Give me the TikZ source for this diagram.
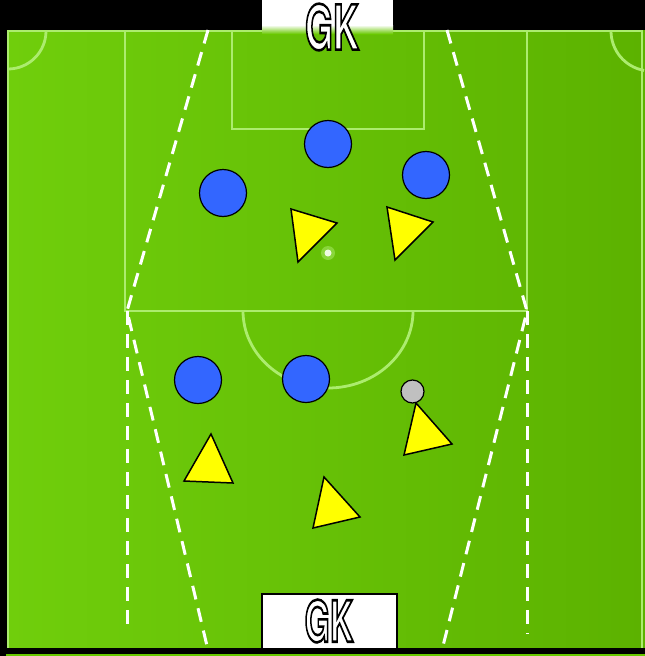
\documentclass[tikz,border=0pt]{standalone}
\usepackage{fontspec}
\setsansfont{TeX Gyre Heros}
\usetikzlibrary{positioning}
\definecolor{pitch}{RGB}{104,200,0}
\definecolor{pitchdark}{RGB}{92,178,0}
\definecolor{pitchlight}{RGB}{112,206,12}
\definecolor{chalk}{RGB}{172,236,110}
\definecolor{defender}{RGB}{51,102,255}
\definecolor{attacker}{RGB}{255,255,0}
\definecolor{ballgrey}{RGB}{192,192,192}
\newcommand{\outlined}[1]{\special{pdf:literal direct 2 Tr 2.6 w 0 0 0 RG 1 1 1 rg}#1\special{pdf:literal direct 0 Tr}}

\begin{document}
\begin{tikzpicture}[
    x=1pt, y=-1pt,
    chalkline/.style={chalk, line width=2.8pt},
    zone/.style={white, line width=3pt, dash pattern=on 14pt off 9pt},
    defplayer/.style={circle, draw=black, line width=1.2pt, fill=defender, minimum size=47pt, inner sep=0pt},
    attplayer/.style={draw=black, line width=1.5pt, fill=attacker, line join=miter},
    ball/.style={circle, draw=black, line width=1.2pt, fill=ballgrey, minimum size=23pt, inner sep=0pt},
    gkbox/.style={fill=white, draw=black, line width=1.2pt},
    gklabel/.style={font=\sffamily\bfseries\fontsize{62}{62}\selectfont, inner sep=0pt}
]
    \useasboundingbox (0,0) rectangle (645,656);
    \fill[black] (0,0) rectangle (645,656);
    \fill[left color=pitchlight, middle color=pitch, right color=pitchdark] (7,30) rectangle (645,648);
    \fill[pitch] (6,654) rectangle (645,656);

    \draw[chalkline] (8,648) -- (8,31) -- (642,31) -- (642,648);
    \draw[chalkline] (125,31) -- (125,311) -- (527,311) -- (527,31);
    \draw[chalkline] (232,31) -- (232,129) -- (424,129) -- (424,31);
    \draw[chalkline] (243,311) arc[start angle=180, end angle=0, x radius=85, y radius=77];
    \draw[chalkline] (46,31) arc[start angle=0, end angle=90, radius=38];
    \draw[chalkline] (611,31) arc[start angle=180, end angle=100, radius=40];
    \fill[chalk, opacity=.5] (328,253) circle (7);
    \fill[white!80!chalk] (328,253) circle (3.5);

    \coordinate (tl) at (208,30);
    \coordinate (ml) at (127,311);
    \coordinate (bl) at (208,650);
    \coordinate (vl) at (127,632);
    \coordinate (tr) at (447,30);
    \coordinate (mr) at (527,311);
    \coordinate (br) at (442,650);
    \coordinate (vr) at (527,634);
    \draw[zone] (tl) -- (ml) -- (bl);
    \draw[zone] (tr) -- (mr) -- (br);
    \draw[zone] (ml) -- (vl);
    \draw[zone] (mr) -- (vr);

    \fill[white] (262,0) rectangle (393,26);
    \shade[top color=white, bottom color=pitch] (262,25) rectangle (393,34);
    \node[gklabel] (gktop) at (332,27) {\scalebox{0.58}[1]{\outlined{GK}}};

    \draw[gkbox] (262,594) rectangle (397,650);
    \fill[black] (0,648) rectangle (645,654);
    \node[gklabel, font=\sffamily\bfseries\fontsize{57}{57}\selectfont] (gkbot) at (329,621) {\scalebox{0.57}[1]{\outlined{GK}}};

    \node[defplayer] (d1) at (328,144) {};
    \node[defplayer] (d2) at (223,193) {};
    \node[defplayer] (d3) at (426,175) {};
    \node[defplayer] (d4) at (198,380) {};
    \node[defplayer] (d5) at (306,379) {};

    \draw[attplayer] (291,209) -- (337,223) -- (298,262) -- cycle;
    \draw[attplayer] (387,207) -- (433,222) -- (395,260) -- cycle;
    \draw[attplayer] (211,434) -- (233,483) -- (184,481) -- cycle;
    \draw[attplayer] (324,477) -- (360,517) -- (313,528) -- cycle;
    \draw[attplayer] (416,403) -- (452,444) -- (404,455) -- cycle;

    \node[ball] (ball) at (412.5,391.5) {};
\end{tikzpicture}
\end{document}
